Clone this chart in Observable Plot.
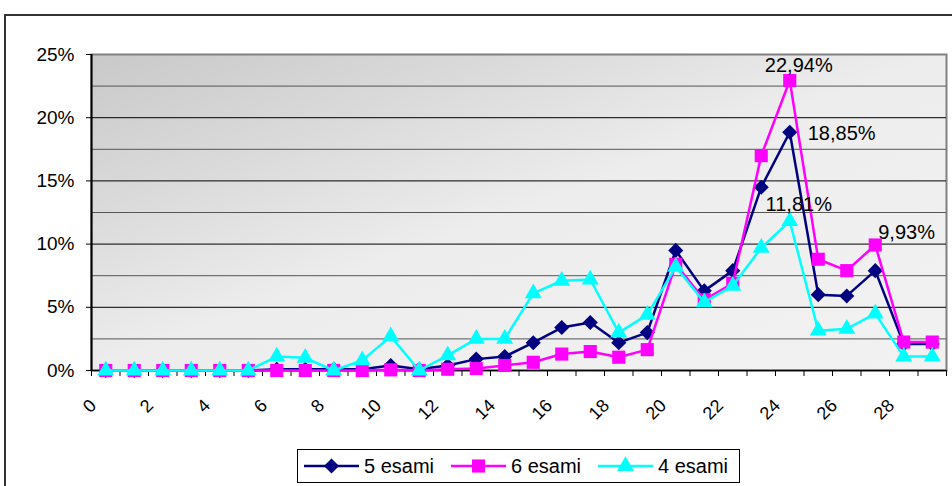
<!DOCTYPE html>
<html><head><meta charset="utf-8">
<script src="https://cdn.jsdelivr.net/npm/d3@7"></script>
<script src="https://cdn.jsdelivr.net/npm/@observablehq/plot@0.6"></script>
<style>
body{margin:0;overflow:hidden;background:#fff;font-family:"Liberation Sans",Arial,sans-serif;}
#wrap{position:relative;width:952px;height:486px;overflow:hidden;}
#border{position:absolute;left:4px;top:14px;width:1000px;height:1000px;border:2px solid #333;box-sizing:border-box}
#chart{position:absolute;left:0;top:0}
#legend{position:absolute;left:297px;top:449px;width:443px;height:34px;border:1px solid #000;box-sizing:border-box;background:#fff;font-size:20px;color:#000}
.item{position:absolute;top:0;height:32px;display:flex;align-items:center}
.item svg{display:block}
.item span{margin-left:5px;white-space:nowrap}
</style></head><body>
<div id="wrap"><div id="border"></div><div id="chart"></div><div id="legend"></div></div>
<script>
// categories (score)
const scores = [0,1,2,3,4,5,6,7,8,9,10,11,12,13,14,15,16,17,18,19,20,21,22,23,24,25,26,27,28,29];
const xTickLabels = [0,2,4,6,8,10,12,14,16,18,20,22,24,26,28];
const yTicks = [0,5,10,15,20,25];
const yMinor = [2.5,7.5,12.5,17.5,22.5];
const yMajor = [5,10,15,20];
// series values in percent
const esami5 = [0,0,0,0,0,0,0.1,0.1,0.1,0.1,0.4,0.1,0.4,0.9,1.1,2.2,3.4,3.8,2.2,3.0,9.5,6.3,7.9,14.5,18.85,6.0,5.9,7.9,2.1,2.1];
const esami6 = [0,0,0,0,0,0,0,0,0,0,0.05,0,0.1,0.15,0.4,0.65,1.3,1.5,1.05,1.65,8.4,5.6,6.9,17.0,22.94,8.8,7.9,9.93,2.25,2.25];
const esami4 = [0,0,0,0,0,0,1.1,1.0,0,0.8,2.7,0,1.2,2.5,2.5,6.1,7.1,7.2,3.0,4.4,8.2,5.4,6.7,9.7,11.81,3.15,3.3,4.5,1.1,1.1];
const seriesNames = ["5 esami","6 esami","4 esami"];
const seriesColors = ["#000080","#ff00ff","#00ffff"];
const seriesSymbols = ["diamond2","square","triangle"];
const seriesR = [6.8,7.4,6.3];

const boundaries = scores.map(s => s - 0.5).concat([scores[scores.length-1] + 0.5]);
const fmt = v => v.toFixed(2).replace(".", ",") + "%";
const rows = (vals) => scores.map((x, i) => ({x, v: vals[i]}));
const allVals = [esami5, esami6, esami4];

const seriesMarks = allVals.flatMap((vals, k) => [
  Plot.line(rows(vals), {x: "x", y: "v", stroke: seriesColors[k], strokeWidth: 2.5}),
  Plot.dot(rows(vals), {x: "x", y: "v", symbol: seriesSymbols[k], r: seriesR[k], fill: seriesColors[k], stroke: "none"})
]);

const pt = (vals, i) => [{x: scores[i], v: vals[i]}];
const labelMarks = [
  Plot.text(pt(esami6, 24), {x: "x", y: "v", text: d => fmt(d.v), textAnchor: "middle", dx: 9, dy: -15, fontSize: 20}),
  Plot.text(pt(esami5, 24), {x: "x", y: "v", text: d => fmt(d.v), textAnchor: "start", dx: 18, dy: 1, fontSize: 20}),
  Plot.text(pt(esami4, 24), {x: "x", y: "v", text: d => fmt(d.v), textAnchor: "middle", dx: 9, dy: -17, fontSize: 20}),
  Plot.text(pt(esami6, 27), {x: "x", y: "v", text: d => fmt(d.v), textAnchor: "start", dx: 3, dy: -12, fontSize: 20})
];

const chart = Plot.plot({
  width: 952, height: 486,
  marginLeft: 91, marginRight: 6, marginTop: 54, marginBottom: 116,
  style: {fontFamily: "'Liberation Sans', Arial, sans-serif", fontSize: "18px", color: "#000", background: "transparent", overflow: "visible"},
  x: {type: "linear", domain: [boundaries[0], boundaries[boundaries.length-1]], label: null},
  y: {type: "linear", domain: [0, 25], label: null},
  marks: [
    Plot.frame({fill: "url(#bg)", stroke: "#808080", strokeWidth: 2}),
    Plot.ruleY(yMinor, {stroke: "#555", strokeWidth: 1}),
    Plot.ruleY(yMajor, {stroke: "#000", strokeWidth: 1}),
    Plot.axisY({ticks: yTicks, tickFormat: d => d + "%", tickSize: 5, tickPadding: 12, fontSize: 19, stroke: "#000", label: null}),
    Plot.axisX({ticks: boundaries, tickFormat: () => "", tickSize: 6, stroke: "#000", label: null}),
    Plot.text(xTickLabels, {x: d => d, frameAnchor: "bottom", rotate: -45, textAnchor: "end", lineAnchor: "middle", dx: -12.6, dy: 32, fontSize: 18, fill: "#000"}),
    Plot.ruleY([0], {stroke: "#000", strokeWidth: 1.5}),
    Plot.ruleX([boundaries[0]], {stroke: "#000", strokeWidth: 2}),
    ...seriesMarks,
    ...labelMarks
  ]
});

const ns = "http://www.w3.org/2000/svg";
const defs = document.createElementNS(ns, "defs");
const grad = document.createElementNS(ns, "linearGradient");
grad.setAttribute("id", "bg");
grad.setAttribute("x1", "0"); grad.setAttribute("y1", "0");
grad.setAttribute("x2", "1"); grad.setAttribute("y2", "1");
[["0", "#c9c9c9"], ["0.25", "#dadada"], ["0.5", "#ededed"], ["1", "#f2f2f2"]].forEach(([o, c]) => {
  const s = document.createElementNS(ns, "stop");
  s.setAttribute("offset", o); s.setAttribute("stop-color", c);
  grad.appendChild(s);
});
defs.appendChild(grad);
chart.insertBefore(defs, chart.firstChild);
document.getElementById("chart").appendChild(chart);

// legend
const legend = document.getElementById("legend");
const itemLefts = [6, 153, 300];
seriesNames.forEach((name, k) => {
  const div = document.createElement("div");
  div.className = "item";
  div.style.left = itemLefts[k] + "px";
  const sym = {diamond2: d3.symbolDiamond2, square: d3.symbolSquare, triangle: d3.symbolTriangle}[seriesSymbols[k]];
  const path = d3.symbol(sym, seriesR[k] * seriesR[k] * Math.PI)();
  div.innerHTML = `<svg width="55" height="20"><line x1="0" y1="10" x2="55" y2="10" stroke="${seriesColors[k]}" stroke-width="2.5"/><path d="${path}" transform="translate(27.5,10)" fill="${seriesColors[k]}"/></svg><span>${name}</span>`;
  legend.appendChild(div);
});
</script>
</body></html>
